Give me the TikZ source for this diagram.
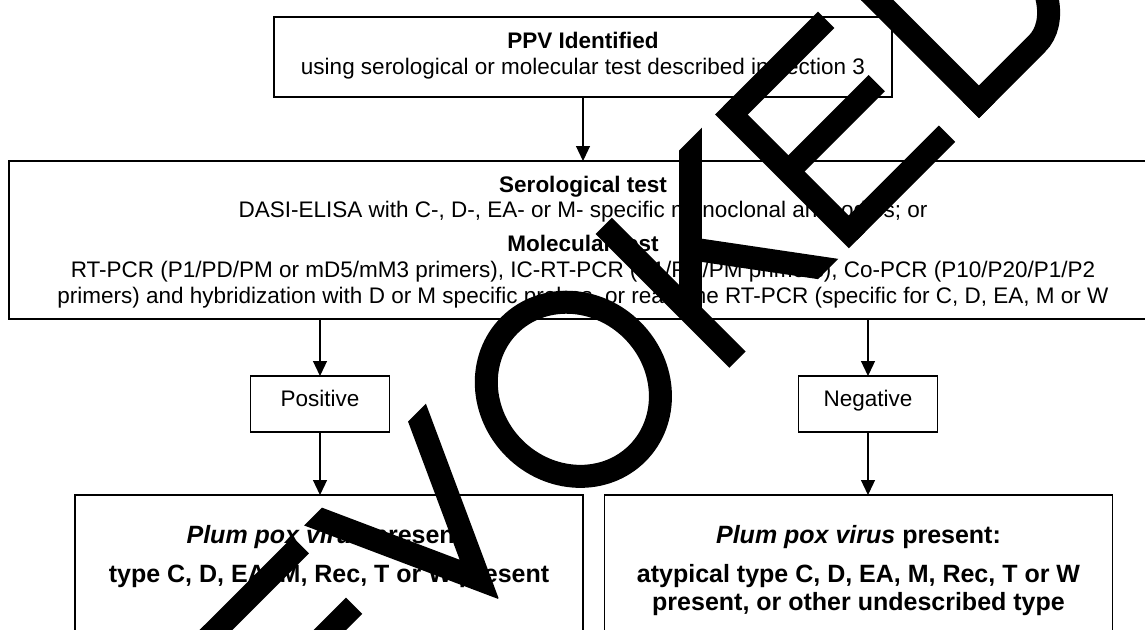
\documentclass[tikz,border=0pt]{standalone}
\usepackage{fontspec}
\setmainfont{Liberation Sans}
\usetikzlibrary{arrows.meta,fit}
\begin{document}
\begin{tikzpicture}[x=0.5pt,y=-0.5pt,
  box/.style={draw, line width=0.9pt, inner sep=0pt, outer sep=0pt},
  txt/.style={anchor=base, inner sep=0pt, font=\fontsize{11.25}{13}\selectfont},
  txtb/.style={anchor=base, inner sep=0pt, font=\fontsize{11.25}{13}\selectfont\bfseries},
  big/.style={anchor=base, inner sep=0pt, font=\fontsize{12.5}{14}\selectfont\bfseries},
  arr/.style={line width=0.6pt, -{Triangle[length=7.5pt,width=7pt]}},
  wm/.style={line width=11.5pt, line cap=butt, line join=miter}]
\useasboundingbox (0,0) rectangle (1145,629);
\fill[white] (0,0) rectangle (1145,629);

% boxes
\node[box, fit={(274,17) (892,97)}] (b1) {};
\node[box, fit={(9,161) (1157,319)}] (b2) {};
\node[box, fit={(250.5,376) (389.5,432)}] (pos) {};
\node[box, fit={(798.5,376) (937.5,432)}] (neg) {};
\node[box, fit={(75,495) (583,720)}] (lb) {};
\node[box, fit={(604.5,495) (1112.5,720)}] (rb) {};

% texts
\node[txtb] (t1a) at (583,48) {PPV Identified};
\node[txt]  (t1b) at (583,74) {using serological or molecular test described in section 3};
\node[txtb] (t2a) at (583,192) {Serological test};
\node[txt]  (t2b) at (583,217) {DASI-ELISA with C-, D-, EA- or M- specific monoclonal antibodies; or};
\node[txtb] (t2c) at (583,251) {Molecular test};
\node[txt]  (t2d) at (583,277) {RT-PCR (P1/PD/PM or mD5/mM3 primers), IC-RT-PCR (P1/PD/PM primers), Co-PCR (P10/P20/P1/P2};
\node[txt]  (t2e) at (583,303) {primers) and hybridization with D or M specific probes, or real-time RT-PCR (specific for C, D, EA, M or W};
\node[txt]  (tp) at (320,406) {Positive};
\node[txt]  (tn) at (868,406) {Negative};
\node[big]  (tl1) at (329,543) {\textit{Plum pox virus} present:};
\node[big]  (tl2) at (329,582) {type C, D, EA, M, Rec, T or W present};
\node[big]  (tr1) at (858.5,543) {\textit{Plum pox virus} present:};
\node[big]  (tr2) at (858.5,582) {atypical type C, D, EA, M, Rec, T or W};
\node[big]  (tr3) at (858.5,610) {present, or other undescribed type};

% connectors
\draw[arr] (b1.south) -- (b2.north);
\draw[arr] (pos.north |- b2.south) -- (pos.north);
\draw[arr] (neg.north |- b2.south) -- (neg.north);
\draw[arr] (pos.south) -- (pos.south |- lb.north);
\draw[arr] (neg.south) -- (neg.south |- rb.north);

% watermark
\begin{scope}
\clip (0,0) rectangle (1145,629);
\begin{scope}[shift={(497,600)}, x=0.5pt, y=0.5pt, rotate=45]
 \begin{scope}
  \clip (-400,0) -- (1000,0) -- (1000,189) -- (-400,189) -- cycle;
  % E
  \draw[wm] (-236,-30) -- (-236,220);
  \draw[wm] (-236,177.5) -- (-100,177.5);
  \draw[wm] (-236,97) -- (-105,97);
  \draw[wm] (-236,11.5) -- (-97,11.5);
  % V
  \draw[wm] (-85,220) -- (2,27) -- (90,220);
  % K
  \draw[wm] (340,-30) -- (340,220);
  \draw[wm] (340,67) -- (500,227);
  \draw[wm] (385,112) -- (483,-20);
  % E
  \draw[wm] (509,-30) -- (509,220);
  \draw[wm] (509,177.5) -- (643,177.5);
  \draw[wm] (509,97) -- (634,97);
  \draw[wm] (509,11.5) -- (648,11.5);
  % D
  \draw[wm] (693,-30) -- (693,220);
  \draw[wm] (681.5,11.5) -- (775,11.5) arc[start angle=-90,end angle=90,x radius=55,y radius=83] -- (681.5,177.5);
 \end{scope}
 % O
 \draw[wm] (203,95) ellipse [x radius=83.5, y radius=90.5];
\end{scope}
\end{scope}
\end{tikzpicture}
\end{document}
